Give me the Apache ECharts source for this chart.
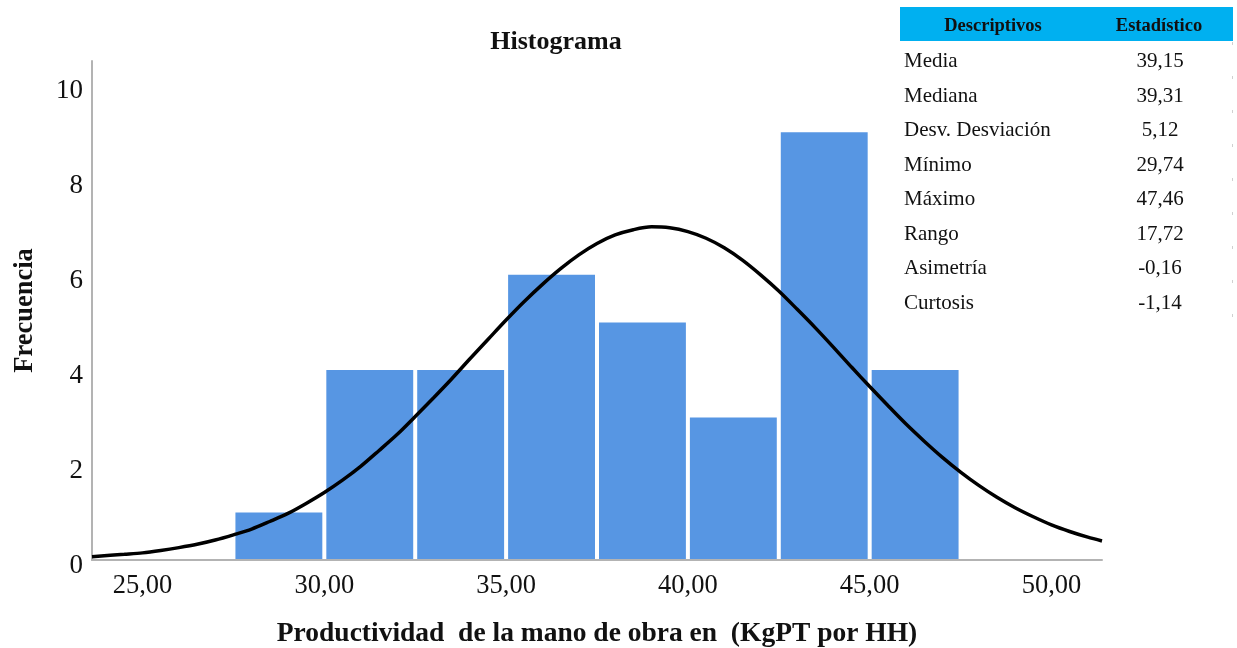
<!DOCTYPE html>
<html>
<head>
<meta charset="utf-8">
<script src="https://cdn.jsdelivr.net/npm/echarts@6/dist/echarts.min.js"></script>
<style>
  html, body { margin: 0; padding: 0; background: #fff; }
  #chart { width: 1237px; height: 648px; }
</style>
</head>
<body>
<div id="chart"></div>
<script>
// ---- Data ----
const binStarts = [27.5, 30.0, 32.5, 35.0, 37.5, 40.0, 42.5, 45.0];
const binEnds   = [30.0, 32.5, 35.0, 37.5, 40.0, 42.5, 45.0, 47.5];
const counts    = [1, 4, 4, 6, 5, 3, 9, 4];

// Normal curve (x, frequency)
const curveX = [23.61, 24.5, 25, 25.5, 26, 26.5, 27, 27.5, 28, 28.5, 29, 29.5, 30, 30.5, 31, 31.5, 32, 32.5, 33, 33.5, 34, 34.5, 35, 35.5, 36, 36.5, 37, 37.5, 38, 38.5, 39, 39.5, 40, 40.5, 41, 41.5, 42, 42.5, 43, 43.5, 44, 44.5, 45, 45.5, 46, 46.5, 47, 47.5, 48, 48.5, 49, 49.5, 50, 50.5, 51, 51.39];
const curveY = [0.07, 0.12, 0.15, 0.20, 0.26, 0.33, 0.42, 0.53, 0.65, 0.81, 0.98, 1.19, 1.42, 1.68, 1.97, 2.30, 2.64, 3.02, 3.41, 3.81, 4.23, 4.64, 5.05, 5.44, 5.80, 6.13, 6.42, 6.66, 6.84, 6.95, 7.01, 6.99, 6.91, 6.77, 6.57, 6.31, 6.00, 5.66, 5.28, 4.89, 4.48, 4.06, 3.65, 3.25, 2.86, 2.50, 2.16, 1.85, 1.57, 1.32, 1.10, 0.91, 0.74, 0.60, 0.48, 0.40];

const xTickValues = [25, 30, 35, 40, 45, 50];
const yTickValues = [0, 2, 4, 6, 8, 10];

const statNames  = ['Media', 'Mediana', 'Desv. Desviación', 'Mínimo', 'Máximo', 'Rango', 'Asimetría', 'Curtosis'];
const statValues = ['39,15', '39,31', '5,12', '29,74', '47,46', '17,72', '-0,16', '-1,14'];
const tableHeaders = ['Descriptivos', 'Estadístico'];

const titleText = 'Histograma';
const xName = 'Productividad  de la mano de obra en  (KgPT por HH)';
const yName = 'Frecuencia';

// ---- Build ----
const SERIF = "'Liberation Serif', 'Times New Roman', serif";
const barColor = '#5796e3';
const axisColor = '#b3b3b3';

const histData = binStarts.map((s, i) => [s, binEnds[i], counts[i]]);
const curveData = curveX.map((x, i) => [x, curveY[i]]);

const graphics = [];
graphics.push({
  type: 'text', x: 556, y: 42,
  style: { text: titleText, font: 'bold 26px ' + SERIF, fill: '#111', textAlign: 'center', textVerticalAlign: 'middle' }
});
// table header
graphics.push({
  type: 'rect', shape: { x: 900, y: 7, width: 333, height: 34 },
  style: { fill: '#00b0f0' }
});
graphics.push({
  type: 'text', x: 993, y: 26,
  style: { text: tableHeaders[0], font: 'bold 18.5px ' + SERIF, fill: '#111', textAlign: 'center', textVerticalAlign: 'middle' }
});
graphics.push({
  type: 'text', x: 1159, y: 26,
  style: { text: tableHeaders[1], font: 'bold 18.5px ' + SERIF, fill: '#111', textAlign: 'center', textVerticalAlign: 'middle' }
});
statNames.forEach((n, i) => {
  const y = 61.5 + i * 34.5;
  graphics.push({
    type: 'text', x: 904, y: y,
    style: { text: n, font: '21px ' + SERIF, fill: '#111', textAlign: 'left', textVerticalAlign: 'middle' }
  });
  graphics.push({
    type: 'text', x: 1160, y: y,
    style: { text: statValues[i], font: '21px ' + SERIF, fill: '#111', textAlign: 'center', textVerticalAlign: 'middle' }
  });
});
graphics.push({
  type: 'line', shape: { x1: 1232.5, y1: 42, x2: 1232.5, y2: 318 },
  style: { stroke: '#d0d0d0', lineWidth: 1, lineDash: [3, 31] }
});

const chart = echarts.init(document.getElementById('chart'), null, { renderer: 'canvas' });
chart.setOption({
  animation: false,
  backgroundColor: '#ffffff',
  grid: { left: 92, right: 135, top: 61, bottom: 88, containLabel: false, outerBoundsMode: 'none' },
  xAxis: {
    type: 'value',
    min: 23.61, max: 51.39,
    splitLine: { show: false },
    axisTick: { show: false },
    axisLine: { show: true, onZero: false, lineStyle: { color: axisColor, width: 2 } },
    axisLabel: {
      customValues: xTickValues,
      formatter: v => v.toFixed(2).replace('.', ','),
      fontFamily: SERIF, fontSize: 26.5, color: '#111', margin: 13
    },
    name: xName,
    nameLocation: 'middle',
    nameGap: 60,
    nameTextStyle: { fontFamily: SERIF, fontSize: 27.5, fontWeight: 'bold', color: '#111' }
  },
  yAxis: {
    type: 'value',
    min: 0, max: 10.5,
    splitLine: { show: false },
    axisTick: { show: false },
    axisLine: { show: true, lineStyle: { color: axisColor, width: 2 } },
    axisLabel: {
      customValues: yTickValues,
      fontFamily: SERIF, fontSize: 27, color: '#111', margin: 9,
      verticalAlign: 'top', lineHeight: 12
    },
    name: yName,
    nameLocation: 'middle',
    nameGap: 53,
    nameRotate: 90,
    nameTextStyle: { fontFamily: SERIF, fontSize: 26.5, fontWeight: 'bold', color: '#111' }
  },
  series: [
    {
      type: 'custom',
      data: histData,
      encode: { x: [0, 1], y: 2 },
      renderItem: function (params, api) {
        const p0 = api.coord([api.value(0), api.value(2)]);
        const p1 = api.coord([api.value(1), 0]);
        return {
          type: 'rect',
          shape: { x: p0[0] + 2, y: p0[1], width: p1[0] - p0[0] - 4, height: p1[1] - p0[1] - 1 },
          style: { fill: barColor }
        };
      },
      z: 2
    },
    {
      type: 'line',
      data: curveData,
      smooth: 0.3,
      showSymbol: false,
      lineStyle: { color: '#000', width: 3.5 },
      z: 3
    }
  ],
  graphic: graphics
});
</script>
</body>
</html>
